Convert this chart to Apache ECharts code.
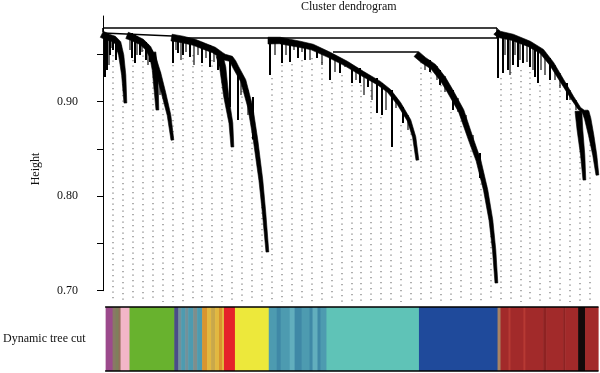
<!DOCTYPE html>
<html><head><meta charset="utf-8">
<script src="https://cdn.jsdelivr.net/npm/echarts@6/dist/echarts.min.js"></script>
<style>html,body{margin:0;padding:0;background:#fff}#c{width:600px;height:373px}</style>
</head><body><div id="c"></div>
<script>
// ---------- DATA (x = leaf order position, y = merge height) ----------
const yTicks = [0.70, 0.75, 0.80, 0.85, 0.90, 0.95];
const yTickLabels = [0.70, 0.80, 0.90];

// merge lines joining the modules [x1, h1, x2, h2]
const mergeLines = [
  [0, 0.978, 394, 0.978],
  [0, 0.978, 0, 0.9738],
  [394, 0.978, 394, 0.9674],
  [69, 0.9674, 394, 0.9674],
  [0, 0.9727, 69, 0.9695],
  [230, 0.9526, 315, 0.9526]
];

// module branch outlines [x, h]
const branchGrey = [[0,0.9738],[6,0.9706],[12,0.9685],[17,0.9632],[20,0.9494],[22,0.9283],[23,0.8986]];
const branchGreen = [[25,0.9727],[30,0.9706],[40,0.9653],[47,0.9579],[52,0.9473],[57,0.9304],[62,0.9092],[67,0.8859],[70,0.8595]];
const branchGreen2 = [[52,0.9526],[54,0.9335],[55,0.8912]];
const branchYellow = [[69,0.9706],[80,0.9685],[92,0.9653],[102,0.9610],[112,0.9568],[119,0.9515],[122,0.9494],[129,0.9473],[132,0.9430],[135,0.9367],[142,0.9230],[149,0.8944],[154,0.8595],[159,0.8171],[162,0.7822],[165,0.7410]];
const branchRed = [[119,0.9494],[122,0.9367],[125,0.9050],[129,0.8775],[130,0.8521]];
const branchTurquoise = [[165,0.9674],[177,0.9674],[197,0.9632],[210,0.9600],[227,0.9515],[244,0.9420],[260,0.9314],[277,0.9208],[287,0.9124],[297,0.8986],[307,0.8806],[312,0.8627],[315,0.8383]];
const branchBlue = [[315,0.9526],[322,0.9462],[332,0.9388],[342,0.9251],[349,0.9124],[360,0.8912],[370,0.8595],[377,0.8383],[384,0.8066],[389,0.7748],[392,0.7431],[394,0.7082]];
const branchBrown = [[395,0.9759],[397,0.9738],[410,0.9706],[427,0.9632],[440,0.9547],[450,0.9410],[460,0.9230],[470,0.9050],[477,0.8933],[481,0.8902],[485,0.8902]];
const branchBlack = [[478,0.8902],[479,0.8701],[481,0.8436],[482,0.8171]];
const branchBrown2 = [[485,0.8902],[487,0.8827],[490,0.8648],[493,0.8436],[495,0.8224]];

// larger sub-branches [x, hTop, hBottom]
const subBranches = [
  [2,0.9695,0.9261],[4,0.9695,0.9335],[7,0.9685,0.9494],[10,0.9685,0.9547],[13,0.9674,0.9441],
  [29,0.9727,0.9462],[32,0.9706,0.9410],[37,0.9674,0.9494],[43,0.9632,0.9441],[47,0.9579,0.9420],
  [70,0.9685,0.9410],[75,0.9674,0.9515],[80,0.9663,0.9494],[87,0.9653,0.9473],[99,0.9632,0.9410],
  [107,0.9600,0.9367],[115,0.9547,0.9335],[127,0.9473,0.8944],[135,0.9367,0.8806],[150,0.9050,0.8600],
  [167,0.9674,0.9283],[179,0.9653,0.9410],[187,0.9632,0.9420],[195,0.9621,0.9462],[202,0.9600,0.9441],
  [214,0.9568,0.9462],[227,0.9515,0.9230],[237,0.9462,0.9304],[249,0.9388,0.9198],[257,0.9357,0.9198],
  [265,0.9283,0.9156],[274,0.9251,0.8880],[279,0.9198,0.8859],[289,0.9124,0.8521],[300,0.8944,0.8775],
  [327,0.9441,0.9314],[337,0.9335,0.9177],[350,0.9124,0.8912],[377,0.8457,0.8193],
  [395,0.9759,0.9251],[400,0.9727,0.9304],[405,0.9706,0.9335],[410,0.9685,0.9388],[415,0.9674,0.9367],
  [420,0.9653,0.9410],[427,0.9621,0.9367],[432,0.9579,0.9261],[435,0.9547,0.9198],[447,0.9462,0.9230],
  [464,0.9198,0.9018]
];
// small twigs [x, hTop, hBottom]
const twigs = [
  [1,0.9727,0.9441],[6,0.9706,0.9388],[9,0.9695,0.9568],[15,0.9653,0.9526],[18,0.9600,0.9441],
  [27,0.9716,0.9547],[34,0.9695,0.9494],[39,0.9663,0.9526],[45,0.9610,0.9388],[49,0.9547,0.9420],[57,0.9314,0.9071],
  [73,0.9685,0.9547],[78,0.9674,0.9441],[83,0.9663,0.9526],[91,0.9642,0.9388],[95,0.9632,0.9494],
  [103,0.9610,0.9462],[111,0.9579,0.9420],[119,0.9494,0.9283],[138,0.9304,0.9071],[145,0.9124,0.8859],
  [172,0.9674,0.9494],[183,0.9642,0.9494],[191,0.9632,0.9547],[199,0.9621,0.9526],[207,0.9590,0.9441],
  [219,0.9547,0.9388],[232,0.9494,0.9314],[242,0.9431,0.9367],[253,0.9367,0.9230],[261,0.9314,0.9071],
  [269,0.9251,0.9018],[283,0.9156,0.8912],[293,0.9050,0.8933],[305,0.8859,0.8701],
  [322,0.9462,0.9335],[334,0.9378,0.9230],[342,0.9272,0.9103],[355,0.9039,0.8891],[363,0.8859,0.8701],
  [370,0.8648,0.8489],[383,0.8119,0.8013],
  [402,0.9727,0.9494],[407,0.9706,0.9283],[412,0.9685,0.9494],[417,0.9663,0.9441],[424,0.9642,0.9420],
  [430,0.9600,0.9335],[438,0.9547,0.9335],[442,0.9526,0.9283],[452,0.9388,0.9230],[457,0.9304,0.9145],
  [467,0.9124,0.9018],[473,0.9018,0.8912]
];

// guide lines: leaf positions and their heights
const guideX = [10,20,30,40,50,60,70,80,90,99,109,119,129,139,149,159,169,179,189,199,209,219,229,239,249,258,268,278,288,298,308,318,328,338,348,358,368,378,388,398,408,418,427,437,447,457,467,477,487];
const guideTop = [0.9494,0.9420,0.9441,0.9547,0.9441,0.9103,0.9388,0.9462,0.9494,0.9388,
  0.9441,0.9388,0.8489,0.9230,0.8859,0.8119,0.9251,0.9388,0.9399,0.9441,
  0.9462,0.9420,0.9208,0.9283,0.9177,0.9177,0.9124,0.8838,0.8489,0.8754,
  0.8722,0.9420,0.9314,0.9177,0.8891,0.8859,0.8542,0.8193,0.7695,0.9251,
  0.9314,0.9335,0.9314,0.9177,0.9198,0.9177,0.8986,0.8827,0.8722];
const guideBottom = 0.688;

// dynamic tree cut colour bar
const cutStart = [0,7,10,13,15,24,69,73,76,80,83,88,92,97,102,106,110,114,117,119,130,164,172,176,185,190,197,205,208,213,216,222,315,394,397,405,407,420,422,440,443,460,462,475,482];
const cutEnd   = [7,10,13,15,24,69,73,76,80,83,88,92,97,102,106,110,114,117,119,130,164,172,176,185,190,197,205,208,213,216,222,315,394,397,405,407,420,422,440,443,460,462,475,482,495];
const cutModule = ['magenta','greybrown','olive','brown','pink','green','slate','greyteal','steel','greyteal','steel','grey','steel','orange','gold','khaki','gold','orange','gold','red','yellow','steel','steeldark','steel','steellight','steeldark','steel','steeldark','steellight','steeldark','steel','turquoise','blue','tan','brownred','redlight','brownred','redlight','brownred','reddark','brownred','reddark','brownred','black','brownred'];

// ---------- STYLE ----------
const moduleColor = {
  magenta:'#9c4a8c', greybrown:'#8a7866', olive:'#7f7f5c', brown:'#93705a', pink:'#f2b6c8',
  green:'#68b22e', slate:'#4a4c88', greyteal:'#72919a', steel:'#4d9bb0', grey:'#7f8e8c',
  orange:'#d9952f', gold:'#e2b840', khaki:'#c9a84a', red:'#e5232a', yellow:'#ede83b',
  steeldark:'#3f88a6', steellight:'#62aebd', turquoise:'#5fc3b7', blue:'#1f4a9b', tan:'#a88464',
  brownred:'#a22a2a', redlight:'#b73a34', reddark:'#8e2222', black:'#140a0a'
};
const FONT = "'Liberation Serif','DejaVu Serif',serif";

const branches = [branchGrey, branchGreen, branchGreen2, branchYellow, branchRed, branchTurquoise, branchBlue, branchBrown, branchBlack, branchBrown2];

const chart = echarts.init(document.getElementById('c'), null, {renderer:'canvas'});

function vLines(data, width, color, dash){
  return {
    type:'custom', xAxisIndex:0, yAxisIndex:0, clip:false, silent:true, data,
    renderItem:(p, api)=>{
      const a = api.coord([api.value(0), api.value(1)]);
      const b = api.coord([api.value(0), api.value(2)]);
      const style = {stroke:color, lineWidth:width};
      if (dash) style.lineDash = dash;
      return {type:'line', shape:{x1:a[0], y1:a[1], x2:b[0], y2:b[1]}, style};
    }
  };
}
// branch drawn as a band whose upper edge is the branch outline and which tapers along its length
function band(points, w0, w1){
  return {
    type:'custom', xAxisIndex:0, yAxisIndex:0, clip:false, silent:true, data:points,
    renderItem:(p, api)=>{
      if (p.dataIndex !== 0) return null;
      const pts = points.map(q=>api.coord(q));
      const L=[0];
      for (let i=1;i<pts.length;i++) L.push(L[i-1]+Math.hypot(pts[i][0]-pts[i-1][0], pts[i][1]-pts[i-1][1]));
      const tot = L[L.length-1] || 1;
      const up=[], dn=[];
      for (let i=0;i<pts.length;i++){
        const a = pts[Math.max(0,i-1)], b = pts[Math.min(pts.length-1,i+1)];
        let tx=b[0]-a[0], ty=b[1]-a[1]; const n=Math.hypot(tx,ty)||1; tx/=n; ty/=n;
        const nx=-ty, ny=tx;
        const w = w0 + (w1-w0)*(L[i]/tot);
        up.push([pts[i][0]-nx*0.8, pts[i][1]-ny*0.8]);
        dn.push([pts[i][0]+nx*w, pts[i][1]+ny*w]);
      }
      return {type:'polygon', shape:{points: up.concat(dn.reverse())}, style:{fill:'#000', stroke:'#000', lineWidth:0.6}};
    }
  };
}

const series = [];
series.push(vLines(guideX.map((x,i)=>[x, guideTop[i], guideBottom]), 1.4, '#8c8c8c', [1.3,4.2]));
series.push({
  type:'custom', xAxisIndex:0, yAxisIndex:0, clip:false, silent:true,
  data: mergeLines,
  renderItem:(p, api)=>{
    const a = api.coord([api.value(0), api.value(1)]);
    const b = api.coord([api.value(2), api.value(3)]);
    return {type:'line', shape:{x1:a[0], y1:a[1], x2:b[0], y2:b[1]},
      style:{stroke:'#000', lineWidth:1.6}};
  }
});
series.push(vLines(twigs, 1.2, '#111'));
series.push(vLines(subBranches, 2, '#000'));
branches.forEach(b=>series.push(band(b, 6, 2)));
series.push({
  type:'custom', xAxisIndex:1, yAxisIndex:1, silent:true,
  data: cutStart.map((s,i)=>[s, cutEnd[i]]),
  renderItem:(p, api)=>{
    const a = api.coord([api.value(0), 0]);
    const b = api.coord([api.value(1), 0]);
    const h = api.size([0, 1])[1];
    return {type:'rect', shape:{x:a[0], y:a[1]-h/2, width:b[0]-a[0]+0.6, height:h},
      style:{fill: moduleColor[cutModule[p.dataIndex]]}};
  }
});

chart.setOption({
  animation:false,
  backgroundColor:'#fff',
  title:{text:'Cluster dendrogram', left:301, top:1, padding:0,
    textStyle:{fontSize:12, fontWeight:'normal', fontFamily:FONT, color:'#111'}},
  graphic:[{type:'text', x:36, y:169, rotation:Math.PI/2,
    style:{text:'Height', font:'12px '+FONT, fill:'#111', align:'center', verticalAlign:'middle'}}],
  grid:[
    {left:83, right:0, top:16, bottom:82.3},
    {left:103, right:2, top:307, height:64}
  ],
  xAxis:[
    {type:'value', gridIndex:0, min:-20, max:497, show:false},
    {type:'value', gridIndex:1, min:0, max:495, position:'bottom', z:10,
      axisLine:{show:true, onZero:false, lineStyle:{color:'#000', width:1.5}},
      axisTick:{show:false}, axisLabel:{show:false}, splitLine:{show:false}},
    {type:'value', gridIndex:1, min:0, max:495, position:'top', z:10,
      axisLine:{show:true, onZero:false, lineStyle:{color:'#000', width:1.5}},
      axisTick:{show:false}, axisLabel:{show:false}, splitLine:{show:false}}
  ],
  yAxis:[
    {type:'value', gridIndex:0, min:0.70, max:0.9907,
      axisLine:{show:true, lineStyle:{color:'#000', width:1}},
      axisTick:{show:true, length:6, customValues:yTicks, lineStyle:{color:'#000'}},
      axisLabel:{customValues:yTickLabels, formatter:v=>v.toFixed(2), margin:5,
        fontFamily:FONT, fontSize:12, color:'#111'},
      splitLine:{show:false}},
    {type:'category', gridIndex:1, data:['Dynamic tree cut'],
      axisLine:{show:false}, axisTick:{show:false},
      axisLabel:{margin:20, fontFamily:FONT, fontSize:12, color:'#111'}}
  ],
  series
});
</script></body></html>
